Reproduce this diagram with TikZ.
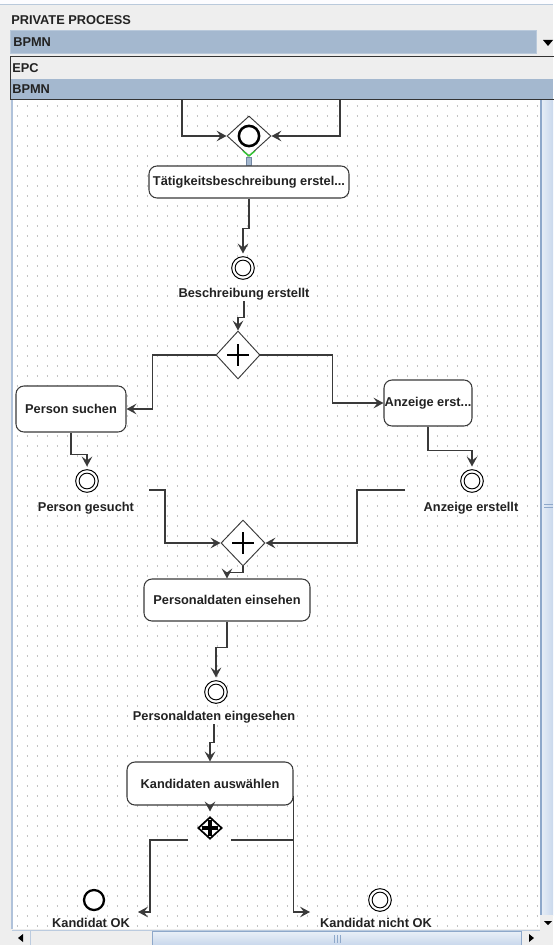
\documentclass[tikz,border=0pt]{standalone}
\usepackage{fontspec}
\setmainfont{Liberation Sans}
\usetikzlibrary{shapes.geometric,arrows.meta,calc}

\definecolor{panel}{HTML}{EEEEEE}
\definecolor{selblue}{HTML}{A4B8CF}
\definecolor{comboedge}{HTML}{B9C9DB}
\definecolor{edgec}{HTML}{3A3A3A}
\definecolor{griddot}{HTML}{C4C4C4}
\definecolor{scrollline}{HTML}{8EA8CA}
\definecolor{scrolllight}{HTML}{EAF0F8}
\definecolor{scrolldark}{HTML}{C9D8EC}
\definecolor{txt}{HTML}{222222}
\definecolor{handlegreen}{HTML}{33CC33}

\newcommand\uifont{\bfseries\fontsize{9.6}{11}\selectfont}

\begin{document}
\begin{tikzpicture}[x=0.75pt,y=-0.75pt,
  task/.style={draw=edgec, line width=0.8pt, rounded corners=6pt, fill=white,
    font=\uifont, text=txt, inner sep=0pt},
  gate/.style={diamond, draw=edgec, line width=0.7pt, fill=white, inner sep=0pt},
  evt/.style={circle, draw=black, line width=0.75pt, fill=white, inner sep=0pt,
    minimum size=17pt},
  endevt/.style={circle, draw=black, line width=1.7pt, fill=white, inner sep=0pt,
    minimum size=15pt},
  lbl/.style={font=\uifont, text=txt, inner sep=1pt, anchor=base},
  conn/.style={draw=edgec, line width=0.9pt,
    -{Stealth[length=7.5pt,width=8pt,inset=3pt]}},
  plain/.style={draw=edgec, line width=0.9pt},
  uitext/.style={font=\uifont, text=txt, anchor=west, inner sep=0pt}]

\useasboundingbox (0,0) rectangle (553,945);

% window background
\fill[panel] (0,0) rectangle (553,945);
\fill[white!85!blue!8] (0,0) rectangle (553,4);
\draw[comboedge, line width=0.75pt] (0,4.5) -- (553,4.5);

% drawing canvas with dotted grid
\fill[white] (11,100) rectangle (540,929);
\foreach \yy in {106,116,...,926}
  \draw[griddot, line width=0.8pt, dash pattern=on 0.75pt off 6.75pt]
    (16.5,\yy) -- (539,\yy);
\draw[scrollline!70, line width=1.5pt] (11.5,100) -- (11.5,929);

% ---------------- process nodes ----------------
\node[gate, minimum width=33pt, minimum height=30pt] (g1) at (249,136) {};
\draw[black, line width=1.9pt] (g1) circle[radius=7.6pt];
\draw[handlegreen, line width=1pt] (243,151) -- (249,156) -- (255,151);
\draw[fill=selblue, draw=scrollline!80!black, line width=0.5pt]
  (246,157) rectangle (251,165);

\node[task, minimum width=150pt, minimum height=24pt] (t1) at (249,182)
  {Tätigkeitsbeschreibung erstel...};

\node[evt] (e1) at (243,268) {};
\node[lbl] (l1) at (244,297) {Beschreibung erstellt};

\node[gate, minimum width=33pt, minimum height=36pt] (g2) at (238,355) {};
\draw[black, line width=1.8pt] ($(g2)+(-11,0)$) -- ($(g2)+(11,0)$)
  ($(g2)+(0,-11)$) -- ($(g2)+(0,11)$);

\node[task, minimum width=82.5pt, minimum height=34.5pt] (ps) at (71,409)
  {Person suchen};
\node[task, minimum width=66pt, minimum height=34.5pt] (az) at (428,403)
  {Anzeige erst...};

\node[evt] (e2) at (87,481) {};
\node[lbl] (l2) at (86,511) {Person gesucht};
\node[evt] (e3) at (472,481) {};
\node[lbl] (l3) at (471,511) {Anzeige erstellt};

\node[gate, minimum width=33pt, minimum height=34.5pt] (g3) at (243,543) {};
\draw[black, line width=1.8pt] ($(g3)+(-11,0)$) -- ($(g3)+(11,0)$)
  ($(g3)+(0,-11)$) -- ($(g3)+(0,11)$);

\node[task, minimum width=124.5pt, minimum height=31.5pt] (pe) at (227,600)
  {Personaldaten einsehen};

\node[evt] (e4) at (216,692) {};
\node[lbl] (l4) at (214,720) {Personaldaten eingesehen};

\node[task, minimum width=124.5pt, minimum height=32.25pt] (kd) at (210,783.5)
  {Kandidaten auswählen};

\node[diamond, draw=black, line width=1.3pt, fill=white, inner sep=0pt,
  minimum width=18pt, minimum height=16.5pt] (g4) at (210,828) {};
\draw[black, line width=3pt] ($(g4)+(-8,0)$) -- ($(g4)+(8,0)$)
  ($(g4)+(0,-8)$) -- ($(g4)+(0,8)$);

\node[endevt] (x1) at (94,900) {};
\node[lbl] (l5) at (91,927.5) {Kandidat OK};
\node[evt] (x2) at (380,900) {};
\node[lbl] (l6) at (376,927.5) {Kandidat nicht OK};

% inner rings of the intermediate / end events
\foreach \n in {e1,e2,e3,e4,x2}
  \draw[black, line width=0.7pt] (\n) circle[radius=5.9pt];

% ---------------- connectors ----------------
\coordinate (tl) at (182,96);
\coordinate (tr) at (340,96);
\draw[conn] (tl) |- (g1.west);
\draw[conn] (tr) |- (g1.east);

\draw[conn, shorten >=2pt] (t1.south) -- ++(0,30) -| (e1.north);
\draw[conn] (l1.south) -- ++(0,16) -| (g2.north);

\draw[conn] (g2.west) -- ++(-63,0) |- (ps.east);
\draw[conn] (g2.east) -- ++(72,0) |- (az.west);

\draw[conn, shorten >=2pt] (ps.south) -- ++(0,22) -| (e2.north);
\draw[conn, shorten >=2pt] (az.south) -- ++(0,24) -| (e3.north);

\coordinate (jl) at (149,490);
\coordinate (jr) at (405,490);
\draw[conn] (jl) -- ++(16,0) |- (g3.west);
\draw[conn] (jr) -- ++(-48,0) |- (g3.east);

\draw[conn] (g3.south) -- ++(0,6) -| (pe.north);
\draw[conn, shorten >=2pt] (pe.south) -- ++(0,26) -| (e4.north);
\draw[conn] (l4.south) -- ++(0,18) -| (kd.north);

\draw[conn, shorten >=3.5pt] (kd.south) -- (g4.north);

\coordinate (bl) at (188,840);
\coordinate (okin) at (138,912);
\draw[conn] (bl) -- ++(-38,0) |- (okin);

\coordinate (br) at (231,840);
\coordinate (kdr) at ($(kd.south east)+(0,-10)$);
\coordinate (nokin) at (310,912);
\draw[conn] (kdr) |- (nokin);
\draw[plain] (br) -- (br -| kdr);

% ---------------- scroll bars ----------------
\shade[left color=scrolllight, right color=scrolldark] (540,100) rectangle (553,915);
\draw[scrollline, line width=1.5pt] (540.5,100) -- (540.5,915);
\draw[scrollline, line width=0.75pt] (544,504) -- (553,504) (544,507) -- (553,507);
\fill[panel] (540,915) rectangle (553,945);
\fill[black] (544,921) -- (552,921) -- (548,925) -- cycle;

\fill[panel] (12,930) rectangle (540,945);
\draw[scrollline!60, line width=0.75pt] (12,930.5) -- (540,930.5);
\draw[scrollline!60, line width=0.75pt] (30,931) -- (30,945);
\fill[black] (23,934) -- (23,942) -- (18,938) -- cycle;
\shade[top color=scrolllight, bottom color=scrolldark] (152,931) rectangle (521,945);
\draw[scrollline, line width=0.75pt] (152,931) rectangle (521,945);
\draw[scrollline, line width=0.6pt] (334.5,935) -- (334.5,943) (337.5,935) -- (337.5,943)
  (340.5,935) -- (340.5,943);
\fill[black] (529,934) -- (529,942) -- (534,938) -- cycle;

% ---------------- header: process type chooser ----------------
\node[uitext] (hdr) at (11,20) {PRIVATE PROCESS};
\draw[fill=selblue, draw=comboedge, line width=0.75pt] (10.5,30.5) rectangle (536.5,53.5);
\node[uitext] (cur) at (13,42) {BPMN};
\fill[black] (543,40) -- (553,40) -- (548,46) -- cycle;

\fill[panel] (10,56) rectangle (553,79);
\fill[selblue] (10,79) rectangle (553,99);
\draw[black!80, line width=0.9pt] (560,56.5) -- (10.5,56.5) -- (10.5,99.5) -- (560,99.5);
\node[uitext] (opt1) at (12,68) {EPC};
\node[uitext] (opt2) at (12,89) {BPMN};

\end{tikzpicture}
\end{document}
